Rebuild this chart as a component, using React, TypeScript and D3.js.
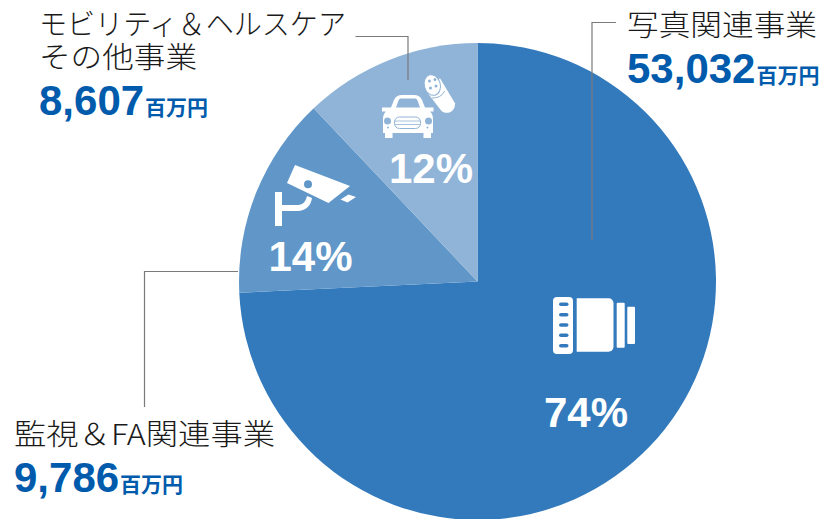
import React from "react";
import * as d3 from "d3";

const segments = ["写真関連事業", "監視＆FA関連事業", "モビリティ＆ヘルスケアその他事業"];
const amounts = [53032, 9786, 8607];
const percents = ["74%", "14%", "12%"];
const colors = ["#337abc", "#6097c8", "#90b4d7"];
const unit = "百万円";
const jp = "'Noto Sans CJK JP', sans-serif";
const num = "'Liberation Sans', Arial, sans-serif";

const W = 825, H = 519, cx = 477.5, cy = 281.5, R = 238.5;

const pie = d3.pie<number>().sort(null).value((d) => d);
const arc = d3.arc<d3.PieArcDatum<number>>().innerRadius(0).outerRadius(R);
const arcs = pie(amounts);
const fmt = d3.format(",");

function Label({ x, y, lines, widths, value, lineH = 0, unitDx }: any) {
  const by = y + (lines.length - 1) * lineH + 46.5;
  return (
    <g>
      {lines.map((l: string, i: number) => (
        <text key={i} x={x} y={y + i * lineH} fontFamily={jp} fontSize={29} fontWeight={300} fill="#1a1a1a" textLength={widths[i]} lengthAdjust="spacingAndGlyphs">{l}</text>
      ))}
      <text x={x} y={by} fontFamily={num} fontSize={42} fontWeight={700} fill="#005bac">{value}</text>
      <text x={x + unitDx} y={by} fontFamily={jp} fontSize={21} fontWeight={700} fill="#005bac">{unit}</text>
    </g>
  );
}

export default function App() {
  return (
    <svg width={W} height={H} viewBox={`0 0 ${W} ${H}`} style={{ position: "absolute", left: 0, top: 0, background: "#fff" }}>
      <g transform={`translate(${cx},${cy})`}>
        {arcs.map((a, i) => <path key={i} d={arc(a) as string} fill={colors[i]} />)}
      </g>

      {/* leader lines */}
      <g fill="none" stroke="#7a7a7a" strokeWidth={1.2}>
        <path d="M616 22.500H592V240" />
        <path d="M355.500 36.500H408V80" />
        <path d="M238 271.500H144.500V407" />
      </g>

      {/* percent labels */}
      <g fontFamily={num} fontWeight={700} fontSize={42} fill="#fff" textAnchor="middle">
        <text x={586} y={427}>{percents[0]}</text>
        <text x={310.500} y={271}>{percents[1]}</text>
        <text x={431} y={183}>{percents[2]}</text>
      </g>

      {/* lens icon */}
      <g fill="#fff">
        <rect x={553} y={297} width={20} height={57} rx={4} />
        {[304.3, 314.7, 325, 335.3, 345.7].map((y) => (
          <rect key={y} x={559} y={y - 1.8} width={9.5} height={3.6} rx={1.8} fill={colors[0]} />
        ))}
        <path d="M576.7 298.3H608.5a5 5 0 0 1 5 5V346.7a5 5 0 0 1 -5 5H576.7Z" />
        <rect x={616.7} y={302.7} width={8} height={45} rx={1} />
        <rect x={627.3} y={306.7} width={7.7} height={37.3} rx={1} />
      </g>

      {/* camera icon */}
      <g fill="#fff">
        <path d="M295 165L350 186L328.5 203L287 183Z" />
        <circle cx={308} cy={184.3} r={4} fill={colors[1]} />
        <path d="M348.5 194.5L356 197L347.5 202.5L340.5 199.5Z" />
        <path d="M275 192H282V205H298C303 205 306 201 307 196L312 198C311 206 305 211 298 211H282V226H275Z" />
      </g>

      {/* car and plug icon */}
      <g fill="#fff">
        <path d="M382 107.500H391L394 100C395.500 96.500 398 95 402 95H414C418 95 420.500 96.500 422 100L425 107.500H433.500V111.500H430C432.500 114 433 116 433 120V133H431V138H423.500V133H392.500V138H385V133H383V120C383 116 383.500 114 386 111.500H382Z" />
        <path d="M396 107.500L398.500 100.500C399 99 400 98.500 402 98.500H414C416 98.500 417 99 417.500 100.500L420 107.500Z" fill={colors[2]} />
        <circle cx={387.500} cy={121} r={3.500} fill={colors[2]} />
        <circle cx={428.500} cy={121} r={3.500} fill={colors[2]} />
        <circle cx={388} cy={127.500} r={1} fill={colors[2]} />
        <circle cx={427.500} cy={127.500} r={1} fill={colors[2]} />
        <rect x={394.500} y={117} width={26} height={11.500} rx={5} fill="none" stroke={colors[2]} strokeWidth={1} />
        <path d="M395 121H420M395 124.500H420" stroke={colors[2]} strokeWidth={0.8} />
        <path d="M426.700 91.700L440.700 110C445 115.500 455.500 113 455 103.300L440 78.300Z" />
        <ellipse cx={432.300} cy={85} rx={8} ry={10.500} transform="rotate(-15 432.300 85)" stroke={colors[2]} strokeWidth={1} />
        <circle cx={429.500} cy={81} r={1.500} fill={colors[2]} />
        <circle cx={435} cy={79.500} r={1.500} fill={colors[2]} />
        <circle cx={430.500} cy={88} r={1.500} fill={colors[2]} />
        <circle cx={436} cy={86} r={1.500} fill={colors[2]} />
        <path d="M432 98C438 98 442 96 444.500 91" fill="none" stroke={colors[2]} strokeWidth={1} />
      </g>

      <Label x={627} y={36} widths={[190]} lines={["写真関連事業"]} value={fmt(amounts[0])} unitDx={129.500} />
      <Label x={39} y={35} lineH={33} widths={[307, 158]} lines={["モビリティ＆ヘルスケア", "その他事業"]} value={fmt(amounts[2])} unitDx={106} />
      <Label x={14} y={445} widths={[261]} lines={["監視＆FA関連事業"]} value={fmt(amounts[1])} unitDx={106} />
    </svg>
  );
}
